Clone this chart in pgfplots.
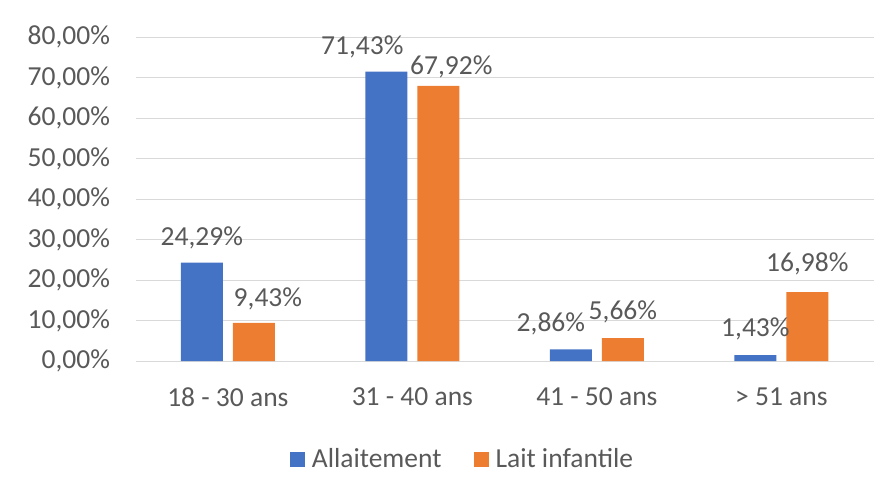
\documentclass[border=0pt]{standalone}
\usepackage{pgfplots}
\pgfplotsset{compat=1.18}
\usepackage{pgfplotstable}
\usepackage{fontspec}
\setmainfont{Carlito}
\definecolor{cblue}{HTML}{4472C4}
\definecolor{corange}{HTML}{ED7D31}
\definecolor{txt}{HTML}{595959}
\definecolor{gridc}{HTML}{D9D9D9}

\pgfplotstableread{
x y dx dy
0 24.29 0 25
1 71.43 -24 25
2 2.86 -20 26
3 1.43 0 26
}\allait
\pgfplotstableread{
x y dx dy
0 9.43 14 24
1 67.92 13 19
2 5.66 0 26
3 16.98 0 28
}\lait

\newcommand{\cfont}{\fontsize{27.5bp}{31bp}\selectfont}

\begin{document}
\begin{tikzpicture}
\begin{axis}[
  name=ax, at={(0,0)}, anchor=south west,
  scale only axis, width=738bp, height=324bp,
  xmin=-0.5, xmax=3.5, ymin=0, ymax=80,
  ybar, bar width=42bp,
  axis line style={draw=none},
  major tick length=0pt,
  ymajorgrids, grid style={gridc, line width=1bp},
  ytick={0,10,...,80},
  xtick={0,1,2,3},
  xticklabels={18 - 30 ans, 31 - 40 ans, 41 - 50 ans, > 51 ans},
  /pgf/number format/assume math mode=true,
  yticklabel={\pgfmathprintnumber[fixed,fixed zerofill,precision=2,use comma]{\tick}\%},
  ticklabel style={font=\cfont, text=txt},
  yticklabel style={inner sep=0pt, anchor=east, xshift=-25.5bp},
  xticklabel style={inner sep=0pt, anchor=center, yshift=-36bp},
  nodes near coords={\pgfmathprintnumber[fixed,fixed zerofill,precision=2,use comma]{\pgfplotspointmeta}\%},
  visualization depends on={\thisrow{dx} \as \dx},
  visualization depends on={\thisrow{dy} \as \dy},
  every node near coord/.append style={font=\cfont, text=txt, anchor=center, inner sep=0pt, xshift=\dx bp, yshift=\dy bp},
  legend image code/.code={\fill[#1] (0bp,-7.5bp) rectangle (15bp,7.5bp);},
  legend columns=2,
  legend style={at={(axis description cs:0.4416,-0.3025)}, anchor=center, draw=none, fill=none,
    font=\cfont, text=txt, inner sep=0pt,
    nodes={inner sep=0pt, text=txt},
    /tikz/every odd column/.append style={column sep=7bp},
    /tikz/every even column/.append style={column sep=32bp}},
]
\addplot[fill=cblue, draw=none, bar shift=-26bp] table[x=x,y=y]{\allait};
\addplot[fill=corange, draw=none, bar shift=26bp] table[x=x,y=y]{\lait};
\legend{Allaitement, Lait infantile}
\end{axis}
\path (-135.6bp,-140bp) rectangle (760.4bp,361bp);
\end{tikzpicture}
\end{document}
